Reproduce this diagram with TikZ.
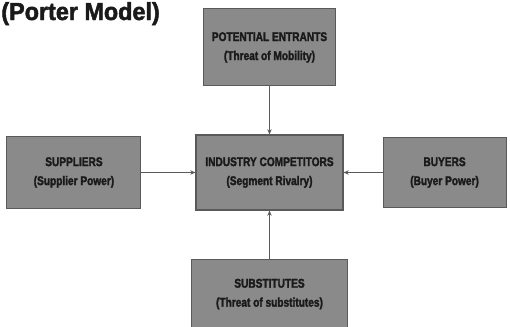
\documentclass[tikz,border=0pt]{standalone}
\usepackage{fontspec}
\setmainfont{Liberation Sans}
\newfontfamily\boxfont[FakeStretch=0.8,FakeBold=2]{Liberation Sans Bold}
\newfontfamily\headfont[FakeStretch=0.95,FakeBold=2]{Liberation Sans Bold}
\usepackage{tikz}
\usetikzlibrary{positioning,arrows.meta}

\definecolor{boxgray}{HTML}{8A8A8A}
\definecolor{edgegray}{HTML}{5A5A5A}
\definecolor{inkgray}{HTML}{1A1A1A}

\begin{document}
\begin{tikzpicture}[
    force/.style={draw=edgegray, line width=0.6pt, fill=boxgray, text=inkgray,
      minimum height=1.44cm, align=center,
      font=\boxfont\fontsize{7.2}{10.8}\selectfont},
    >={Stealth[length=3pt,width=2.5pt]},
    node distance=0.96cm
  ]
    \useasboundingbox (0,0) rectangle (10.2,-6.52);
    \clip (0,0) rectangle (10.2,-6.52);

    \node[anchor=base west, text=inkgray, inner sep=0pt,
      font=\headfont\fontsize{14}{14}\selectfont] (title) at (0.02,-0.4) {(Porter Model)};

    \node[force, minimum width=2.94cm, minimum height=1.5cm] (rivalry) at (5.39,-3.45)
      {INDUSTRY COMPETITORS\\(Segment Rivalry)};
    \node[force, above=0.96cm of rivalry, minimum width=2.64cm, minimum height=1.54cm] (entrants)
      {POTENTIAL ENTRANTS\\(Threat of Mobility)};
    \node[force, left=1.08cm of rivalry, minimum width=2.68cm] (suppliers)
      {SUPPLIERS\\(Supplier Power)};
    \node[force, right=0.78cm of rivalry, minimum width=2.46cm, minimum height=1.4cm] (buyers)
      {BUYERS\\(Buyer Power)};
    \node[force, below=0.96cm of rivalry, minimum width=3.12cm, minimum height=1.4cm] (substitutes)
      {SUBSTITUTES\\(Threat of substitutes)};

    \draw[->, edgegray, line width=0.6pt] (entrants) -- (rivalry);
    \draw[->, edgegray, line width=0.6pt] (suppliers) -- (rivalry);
    \draw[->, edgegray, line width=0.6pt] (buyers) -- (rivalry);
    \draw[->, edgegray, line width=0.6pt] (substitutes) -- (rivalry);
  \end{tikzpicture}
\end{document}
